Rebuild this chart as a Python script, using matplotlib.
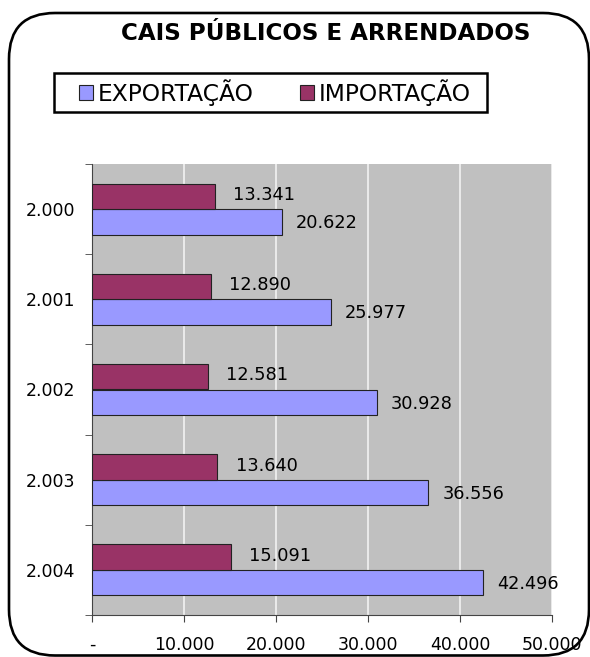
import numpy as np
import matplotlib.pyplot as plt
from matplotlib.patches import FancyBboxPatch, Rectangle

plt.rcParams['font.family'] = ['DejaVu Sans']

anos = ['2.000', '2.001', '2.002', '2.003', '2.004']
exportacao = [20622, 25977, 30928, 36556, 42496]
importacao = [13341, 12890, 12581, 13640, 15091]
xticks = [0, 10000, 20000, 30000, 40000, 50000]
xlabels = ['-', '10.000', '20.000', '30.000', '40.000', '50.000']

def fmt(v):
    return '{:,}'.format(v).replace(',', '.')

W, H = 590, 657
fig = plt.figure(figsize=(W/100, H/100), dpi=100)

# rounded border (in inches)
border = FancyBboxPatch((0.09, 0.015), 5.80, 6.425, boxstyle='round,pad=0,rounding_size=0.46',
                        transform=fig.dpi_scale_trans, fill=False, lw=1.9, ec='black')
fig.patches.append(border)

ax = fig.add_axes([92/W, 1 - 615/H, 460/W, 451/H])
ax.set_facecolor('#C0C0C0')

y = np.arange(len(anos))
h = 0.283
b1 = ax.barh(y + h/2, exportacao, height=h, color='#9999FF', edgecolor='#222222', lw=0.8,
             label='EXPORTAÇÃO', zorder=3)
b2 = ax.barh(y - h/2, importacao, height=h, color='#993366', edgecolor='#222222', lw=0.8,
             label='IMPORTAÇÃO', zorder=3)

for i in range(len(anos)):
    ax.annotate(fmt(exportacao[i]), (exportacao[i], y[i] + h/2), xytext=(10, -1),
                textcoords='offset points', va='center', ha='left', fontsize=12.8)
    ax.annotate(fmt(importacao[i]), (importacao[i], y[i] - h/2), xytext=(13, 1),
                textcoords='offset points', va='center', ha='left', fontsize=12.8)

ax.set_xlim(0, 50000)
ax.set_ylim(len(anos) - 0.5, -0.5)
ax.set_xticks(xticks)
ax.set_xticklabels(xlabels, fontsize=12.5)
ax.set_yticks(y)
ax.set_yticklabels(anos, fontsize=12.5)
ax.tick_params(axis='y', length=0, pad=12)
ax.set_yticks(np.arange(-0.5, len(anos)), minor=True)
ax.tick_params(axis='y', which='minor', length=5, color='#444444')
ax.tick_params(axis='x', length=5, color='#444444', pad=10)
ax.xaxis.grid(True, color='#F2F2F2', lw=1.2, zorder=1)
ax.set_axisbelow(True)
for s in ['top', 'right']:
    ax.spines[s].set_visible(False)
ax.spines['left'].set_color('#444444')
ax.spines['bottom'].set_color('#444444')

fig.text(326/W, 1 - 33/H, 'CAIS PÚBLICOS E ARRENDADOS', ha='center', va='center',
         fontsize=16.6, fontweight='bold')

# legend frame drawn separately
fig.patches.append(Rectangle((54/W, 1 - 112/H), 433/W, 39/H, transform=fig.transFigure,
                             fill=False, ec='black', lw=1.8))
leg = fig.legend(handles=[b1, b2], loc='center left', bbox_to_anchor=(79/W, 1 - 92.5/H),
                 ncol=2, fontsize=16.8, frameon=False,
                 handlelength=0.6, handleheight=0.6, handletextpad=0.2, columnspacing=2.0,
                 borderpad=0, borderaxespad=0)

fig.savefig('out.png', dpi=100)
